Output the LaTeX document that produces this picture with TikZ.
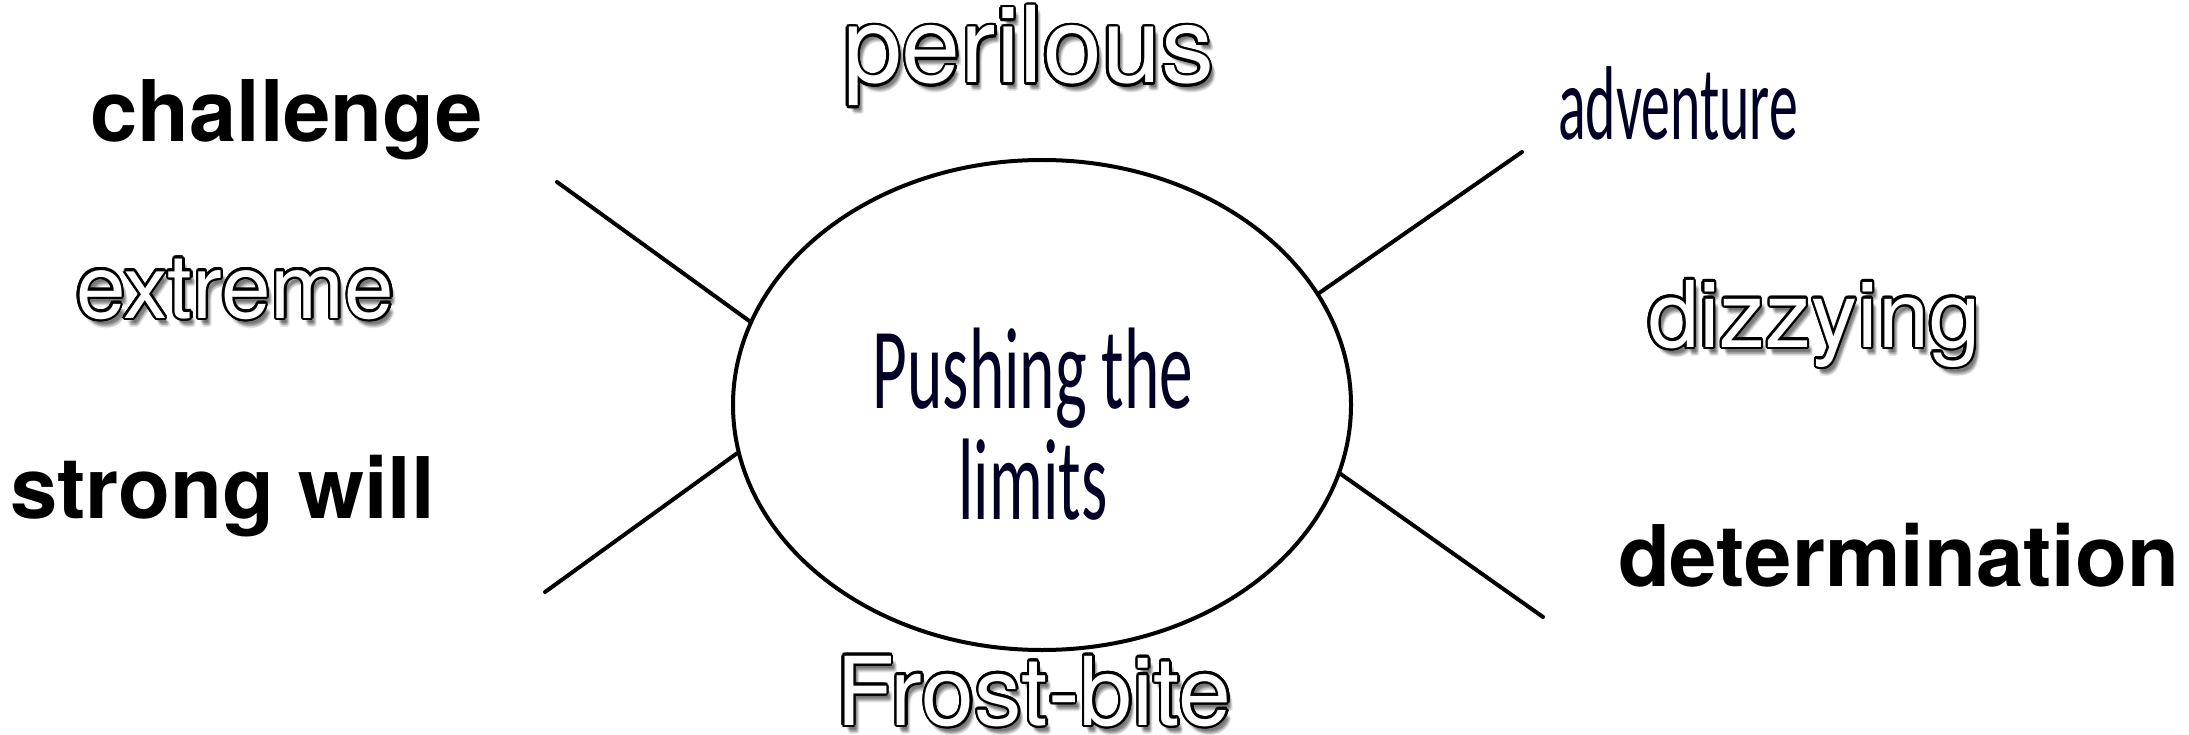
\documentclass[tikz,border=0pt]{standalone}
\usepackage{fontspec}
\usetikzlibrary{shapes.geometric}
\newfontfamily\hel{TeX Gyre Heros}
\newfontfamily\condA[FakeStretch=0.58]{Carlito}
\newfontfamily\condB[FakeStretch=0.55]{Carlito}
\tikzset{
  lbl/.style={anchor=base west, inner sep=0pt, outer sep=0pt},
  boldlbl/.style={lbl, font={\hel\bfseries\fontsize{85}{85}\selectfont}, text=black},
  spoke/.style={line width=4pt, draw=black, line cap=round},
  helsize/.style={font={\hel\fontsize{#1}{#1}\selectfont}},
}
\newcommand\outlinetext[5]{%
  \foreach \sx/\sy in {3/5,5/7,4/6,2/4,6/8,3/7,5/5,4/9}{\node[lbl,helsize=#4,text=black,opacity=0.09] at (#2+\sx,#3+\sy) {#5};}
  \foreach \a in {0,20,...,340}{\node[lbl,helsize=#4,text=black] at ({#2+2.4*cos(\a)},{#3+2.4*sin(\a)}) {#5};}
  \node[lbl,helsize=#4,text=white] (#1) at (#2,#3) {#5};
}
\begin{document}
\begin{tikzpicture}[x=1pt,y=-1pt]
\useasboundingbox[fill=white] (0,0) rectangle (2189,735);
% central ellipse
\node[ellipse, draw=black, line width=4pt, minimum width=618pt, minimum height=490pt, inner sep=0pt] (ell) at (1042,405) {};
\node[anchor=base, inner sep=0pt, align=center, text=black!85!blue, font={\condA\fontsize{116}{111}\selectfont}] (center) at (1033,519) {Pushing the\\limits};
% spokes
\coordinate (ul) at (557,182);
\coordinate (ll) at (545,592);
\coordinate (ur) at (1522,152);
\coordinate (lr) at (1543,617);
\draw[spoke] (ul) -- (ell.164.5);
\draw[spoke] (ll) -- (ell.189.4);
\draw[spoke] (ur) -- (ell.22.5);
\draw[spoke] (lr) -- (ell.347.2);
% plain labels
\node[boldlbl] (challenge) at (90,142) {challenge};
\node[boldlbl] (strong) at (10,518) {strong will};
\node[boldlbl] (determination) at (1618,586) {determination};
\node[lbl, text=black!85!blue, font={\condB\fontsize{105}{105}\selectfont}] (adventure) at (1558,140) {adventure};
% outlined labels
\outlinetext{perilous}{843}{83}{106}{perilous}
\outlinetext{extreme}{76}{318}{89}{extreme}
\outlinetext{dizzying}{1648}{347}{92}{dizzying}
\outlinetext{frost}{836}{725}{95}{Frost-bite}
\end{tikzpicture}
\end{document}
